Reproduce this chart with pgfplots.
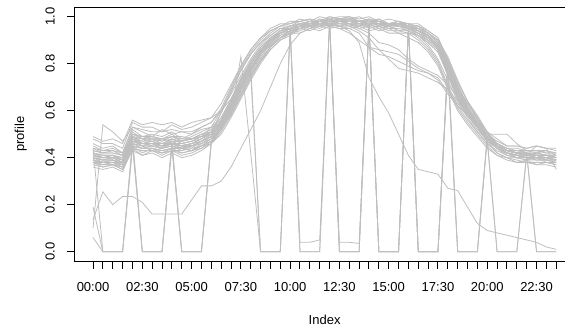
\documentclass[border=0pt]{standalone}
\usepackage{pgfplots}
\pgfplotsset{compat=1.18}
\usepackage{fontspec}
\setmainfont{Liberation Sans}
\definecolor{lc}{RGB}{190,190,190}
\newcommand{\prof}[1]{\addplot[lc, line width=0.6pt, mark=none] table[header=false, row sep=\\, x expr=\coordindex+1, y index=0]{#1\\};}
\begin{document}
\begin{tikzpicture}
\begin{axis}[name=ax, scale only axis, width=375.2pt, height=190.35pt,
 xmin=-0.88, xmax=49.88, ymin=-0.04, ymax=1.04,
 axis line style={black, line width=0.75pt},
 tick align=outside, xtick pos=bottom, ytick pos=left,
 major tick length=5.6pt, tick style={black, line width=0.75pt},
 xtick={1,...,48},
 xticklabels={00:00,,,,,02:30,,,,,05:00,,,,,07:30,,,,,10:00,,,,,12:30,,,,,15:00,,,,,17:30,,,,,20:00,,,,,22:30,,},
 ytick={0,0.2,0.4,0.6,0.8,1},
 /pgf/number format/assume math mode=true,
 yticklabel style={xshift=-5.7pt, rotate=90, anchor=south, /pgf/number format/.cd, fixed, fixed zerofill, precision=1},
 xticklabel style={anchor=north, yshift=-6.5pt},
 tick label style={font=\fontsize{9.75}{11}\selectfont},
 label style={font=\fontsize{9.75}{11}\selectfont},
 xlabel={Index}, ylabel={profile},
 xlabel style={at={(axis description cs:0.5,-0.2301)}, anchor=center},
 ylabel style={at={(axis description cs:-0.1074,0.5)}, anchor=center, rotate=0},
]
% normal days
\prof{.39\\.37\\.38\\.36\\.47\\.45\\.43\\.44\\.46\\.44\\.43\\.46\\.48\\.55\\.63\\.72\\.80\\.86\\.91\\.94\\.95\\.97\\.96\\.98\\.97\\.99\\.98\\.98\\.99\\.97\\.96\\.97\\.95\\.93\\.91\\.87\\.76\\.65\\.59\\.54\\.49\\.44\\.42\\.41\\.40\\.41\\.39\\.39}
\prof{.42\\.40\\.41\\.39\\.49\\.46\\.47\\.45\\.48\\.46\\.47\\.49\\.53\\.60\\.69\\.78\\.85\\.90\\.94\\.96\\.96\\.98\\.97\\.99\\.98\\.99\\1\\.98\\.98\\.99\\.97\\.98\\.96\\.96\\.93\\.90\\.81\\.70\\.63\\.57\\.50\\.46\\.44\\.42\\.43\\.42\\.41\\.41}
\prof{.44\\.42\\.43\\.41\\.51\\.48\\.49\\.48\\.50\\.47\\.49\\.51\\.53\\.57\\.64\\.73\\.80\\.86\\.90\\.93\\.94\\.96\\.95\\.97\\.96\\.98\\.97\\.97\\.96\\.97\\.95\\.96\\.94\\.92\\.90\\.86\\.75\\.65\\.58\\.53\\.47\\.44\\.42\\.41\\.42\\.40\\.41\\.40}
\prof{.38\\.36\\.37\\.35\\.45\\.42\\.44\\.42\\.44\\.42\\.43\\.45\\.46\\.50\\.57\\.65\\.73\\.80\\.86\\.90\\.92\\.95\\.94\\.96\\.95\\.96\\.97\\.95\\.96\\.94\\.95\\.93\\.93\\.90\\.86\\.80\\.70\\.61\\.55\\.50\\.45\\.41\\.40\\.38\\.39\\.37\\.38\\.37}
\prof{.46\\.44\\.45\\.42\\.53\\.51\\.49\\.52\\.50\\.51\\.50\\.53\\.55\\.61\\.70\\.79\\.86\\.91\\.94\\.96\\.98\\.98\\.99\\.98\\1\\.99\\.99\\1\\.98\\.99\\.97\\.98\\.96\\.95\\.92\\.88\\.78\\.67\\.60\\.55\\.50\\.46\\.44\\.44\\.43\\.43\\.43\\.42}
\prof{.40\\.38\\.39\\.37\\.48\\.45\\.46\\.44\\.47\\.45\\.44\\.47\\.49\\.55\\.62\\.71\\.79\\.85\\.90\\.93\\.95\\.96\\.98\\.97\\.99\\.98\\.99\\.97\\.98\\.98\\.96\\.97\\.96\\.96\\.93\\.89\\.80\\.70\\.62\\.56\\.50\\.45\\.42\\.40\\.40\\.39\\.39\\.38}
\prof{.42\\.41\\.41\\.39\\.49\\.47\\.48\\.46\\.48\\.46\\.47\\.49\\.50\\.53\\.59\\.67\\.75\\.82\\.87\\.91\\.93\\.96\\.95\\.97\\.96\\.98\\.97\\.96\\.97\\.95\\.96\\.94\\.95\\.93\\.90\\.86\\.76\\.66\\.59\\.53\\.48\\.44\\.41\\.41\\.40\\.40\\.40\\.39}
\prof{.36\\.35\\.36\\.34\\.44\\.41\\.43\\.41\\.43\\.41\\.42\\.44\\.47\\.53\\.62\\.70\\.78\\.84\\.88\\.91\\.93\\.93\\.95\\.94\\.96\\.95\\.95\\.96\\.94\\.95\\.93\\.93\\.91\\.89\\.85\\.79\\.69\\.60\\.54\\.49\\.44\\.41\\.39\\.38\\.38\\.37\\.37\\.36}
\prof{.48\\.46\\.46\\.44\\.55\\.53\\.53\\.51\\.54\\.52\\.53\\.55\\.57\\.63\\.71\\.79\\.86\\.91\\.95\\.97\\.97\\.99\\.98\\1\\.99\\1\\1\\.99\\1\\.98\\.99\\.98\\.97\\.97\\.94\\.91\\.82\\.72\\.64\\.58\\.51\\.48\\.45\\.45\\.44\\.45\\.44\\.43}
\prof{.41\\.39\\.40\\.38\\.46\\.44\\.45\\.44\\.45\\.43\\.45\\.47\\.49\\.55\\.63\\.72\\.80\\.86\\.90\\.94\\.95\\.96\\.98\\.97\\.98\\.99\\.97\\.98\\.98\\.96\\.97\\.97\\.95\\.94\\.91\\.87\\.77\\.66\\.60\\.54\\.48\\.45\\.43\\.42\\.41\\.42\\.41\\.40}
\prof{.45\\.43\\.44\\.42\\.52\\.49\\.50\\.49\\.51\\.48\\.50\\.52\\.53\\.55\\.60\\.67\\.75\\.82\\.87\\.91\\.94\\.96\\.97\\.99\\.98\\.99\\1\\.98\\.99\\.98\\.97\\.98\\.97\\.96\\.94\\.91\\.82\\.72\\.64\\.57\\.51\\.46\\.43\\.43\\.42\\.42\\.43\\.41}
\prof{.39\\.38\\.39\\.37\\.48\\.46\\.47\\.45\\.47\\.45\\.46\\.48\\.51\\.59\\.68\\.77\\.84\\.89\\.92\\.95\\.95\\.97\\.96\\.97\\.96\\.98\\.97\\.96\\.97\\.95\\.96\\.94\\.94\\.91\\.87\\.81\\.71\\.62\\.56\\.51\\.46\\.42\\.40\\.40\\.39\\.40\\.38\\.38}
\prof{.49\\.47\\.48\\.46\\.56\\.54\\.55\\.54\\.55\\.53\\.55\\.56\\.57\\.60\\.65\\.73\\.80\\.86\\.90\\.93\\.95\\.97\\.96\\.98\\.97\\.99\\.98\\.97\\.98\\.96\\.97\\.96\\.95\\.94\\.91\\.87\\.78\\.68\\.61\\.55\\.50\\.47\\.45\\.45\\.44\\.45\\.44\\.44}
\prof{.37\\.36\\.37\\.35\\.43\\.41\\.42\\.40\\.42\\.40\\.41\\.43\\.46\\.53\\.61\\.70\\.78\\.84\\.88\\.91\\.93\\.94\\.96\\.95\\.97\\.96\\.96\\.97\\.95\\.96\\.94\\.94\\.93\\.92\\.89\\.85\\.75\\.65\\.58\\.52\\.47\\.42\\.40\\.39\\.38\\.38\\.38\\.37}
\prof{.42\\.40\\.41\\.39\\.48\\.46\\.46\\.45\\.46\\.44\\.46\\.48\\.51\\.59\\.68\\.77\\.84\\.89\\.93\\.96\\.97\\.98\\.99\\.98\\1\\.99\\.99\\.98\\.99\\.98\\.97\\.98\\.96\\.95\\.92\\.88\\.78\\.68\\.60\\.54\\.48\\.44\\.42\\.41\\.41\\.40\\.40\\.39}
\prof{.40\\.39\\.40\\.38\\.50\\.48\\.49\\.47\\.49\\.47\\.48\\.50\\.51\\.53\\.58\\.66\\.74\\.81\\.86\\.90\\.93\\.95\\.97\\.96\\.98\\.98\\.99\\.97\\.98\\.98\\.96\\.97\\.96\\.96\\.93\\.90\\.81\\.70\\.63\\.57\\.50\\.46\\.43\\.42\\.41\\.42\\.41\\.40}
% days with blocks of zeros
\prof{.44\\0\\0\\0\\.47\\0\\0\\0\\.46\\.46\\.47\\.48\\.50\\.55\\.61\\.69\\.77\\.84\\.89\\.93\\.95\\.96\\.97\\.98\\.98\\.98\\.98\\.98\\.97\\.97\\.97\\.96\\.96\\.94\\.92\\.88\\.79\\.69\\.60\\.54\\.48\\.45\\.42\\.41\\.41\\.40\\.40\\.40}
\prof{.38\\.38\\.37\\.37\\.45\\0\\0\\0\\.44\\0\\0\\0\\.47\\.52\\.64\\.73\\.81\\.87\\.91\\.94\\.96\\.97\\.97\\.98\\.98\\.99\\.98\\.98\\.98\\.97\\.97\\.97\\.96\\.94\\.92\\.88\\.80\\.70\\.61\\.55\\.49\\.45\\.43\\.42\\.41\\.41\\.40\\.40}
\prof{.06\\0\\0\\0\\.44\\.43\\.43\\.42\\.43\\.43\\.44\\.45\\.48\\.53\\.58\\.83\\.42\\0\\0\\0\\.95\\.96\\.97\\.97\\.98\\.98\\.98\\.97\\.97\\.97\\.96\\.96\\.95\\.92\\.88\\.82\\.73\\.64\\.57\\.51\\.46\\.43\\.41\\.40\\.39\\.39\\.39\\.38}
\prof{.41\\.40\\.40\\.39\\.48\\.47\\.47\\.46\\.47\\0\\0\\0\\.46\\.52\\.60\\.69\\.77\\.84\\.89\\.93\\.95\\0\\0\\0\\.98\\0\\0\\0\\.98\\.97\\.97\\.97\\.96\\.94\\.92\\.88\\.79\\.69\\.60\\.54\\.48\\.44\\.42\\.42\\.41\\.41\\.41\\.40}
\prof{.42\\.41\\.41\\.40\\.49\\.48\\.47\\.48\\.47\\.47\\.48\\.49\\.51\\.56\\.63\\.71\\.76\\0\\0\\0\\.94\\.04\\.04\\.05\\.98\\.98\\.98\\.98\\.97\\0\\0\\0\\.95\\.95\\.93\\.90\\.83\\.73\\.64\\.56\\.50\\.46\\.43\\.42\\.42\\.41\\.41\\.41}
\prof{.39\\.38\\.38\\.38\\.46\\.45\\.45\\.44\\.45\\.44\\.45\\.46\\.48\\.53\\.61\\.69\\.77\\.84\\.89\\.93\\.95\\.96\\.97\\.98\\.98\\.04\\.04\\.035\\.97\\0\\0\\0\\.95\\0\\0\\0\\.80\\.70\\.61\\.54\\.48\\.44\\.42\\.41\\.40\\.40\\.40\\.39}
\prof{.44\\.43\\.43\\.42\\.50\\.49\\.49\\.48\\.49\\.49\\.48\\.50\\.51\\.55\\.62\\.70\\.78\\.85\\.90\\.94\\.96\\.97\\.98\\.98\\.99\\0\\0\\0\\.98\\.98\\.97\\.97\\.97\\0\\0\\0\\.81\\0\\0\\0\\.49\\.45\\.43\\.42\\.42\\.41\\.41\\.41}
\prof{.40\\.39\\.39\\.38\\.47\\.46\\.46\\.45\\.46\\.46\\.45\\.47\\.49\\.54\\.62\\.70\\.78\\.84\\.89\\.93\\.95\\.96\\.97\\.98\\.98\\.98\\.98\\.98\\.97\\.97\\.97\\.96\\.96\\.94\\.92\\.88\\.79\\0\\0\\0\\.48\\0\\0\\0\\.42\\0\\0\\0}
\prof{.38\\.37\\.37\\.36\\.45\\.44\\.44\\.43\\.44\\.44\\.43\\.45\\.47\\.52\\.59\\.68\\.76\\.83\\.88\\.92\\.94\\.95\\.96\\.97\\.97\\.97\\.97\\.97\\.97\\0\\0\\0\\.95\\.93\\.90\\.86\\.77\\.67\\.59\\.53\\.47\\0\\0\\0\\.41\\.45\\.44\\.35}
\prof{.19\\0\\0\\0\\.45\\.44\\.44\\.43\\.44\\.44\\.43\\.45\\.47\\.52\\.60\\.69\\.77\\.84\\.89\\.93\\.95\\.96\\.97\\.98\\.98\\.98\\.98\\.98\\.98\\.97\\.97\\.97\\.96\\0\\0\\0\\.79\\.70\\.61\\.54\\.48\\.44\\.42\\.41\\.40\\.40\\.40\\.39}
\prof{.41\\.40\\.40\\.40\\.47\\.46\\.46\\.46\\.46\\.45\\.46\\.47\\.49\\.54\\.61\\.69\\.77\\.84\\.89\\.93\\.95\\.96\\.97\\.98\\.98\\.98\\.99\\.98\\.98\\.97\\.97\\.97\\.96\\.94\\.92\\.88\\.79\\.69\\.61\\.55\\.49\\.45\\.43\\.42\\.42\\0\\0\\0}
\prof{.43\\.42\\.42\\.41\\.49\\.48\\.48\\.47\\.48\\.47\\.48\\.50\\.52\\.57\\.65\\.74\\.81\\.87\\.91\\.94\\.96\\0\\0\\0\\.97\\.98\\.98\\.98\\.97\\0\\0\\0\\.96\\.94\\.91\\.87\\.76\\.66\\.59\\.54\\.48\\.45\\.43\\.42\\.41\\.41\\.41\\.40}
\prof{.39\\.38\\.38\\.37\\.46\\.45\\.45\\.44\\.45\\.44\\.45\\.46\\.49\\.55\\.63\\.72\\.79\\0\\0\\0\\.93\\.96\\.97\\.97\\.98\\0\\0\\0\\.97\\.97\\.96\\.96\\.95\\.93\\.90\\.86\\.76\\.66\\.59\\.53\\.48\\.44\\.42\\.41\\.40\\.40\\.40\\.39}
\prof{.42\\.41\\.41\\.40\\.49\\0\\0\\0\\.47\\.47\\.48\\.49\\.51\\.56\\.64\\.73\\.80\\.86\\.90\\.93\\.95\\.96\\.97\\.98\\.98\\.98\\.99\\.98\\.98\\.97\\.97\\.96\\.96\\.94\\.92\\.88\\.77\\0\\0\\0\\.49\\.45\\.43\\.42\\.42\\.41\\.41\\.41}
\prof{.40\\.39\\.39\\.38\\.47\\.46\\.46\\.45\\.46\\0\\0\\0\\.47\\.54\\.62\\.71\\.78\\.85\\.89\\.93\\.95\\.96\\.97\\.97\\.98\\.98\\.98\\.98\\.97\\.97\\.97\\.96\\.95\\0\\0\\0\\.78\\.66\\.59\\.54\\.48\\.44\\.42\\.41\\.40\\.40\\.40\\.39}
% unusual days
\prof{.135\\.255\\.20\\.235\\.235\\.21\\.16\\.16\\.16\\.16\\.22\\.28\\.28\\.30\\.36\\.44\\.52\\.60\\.70\\.80\\.88\\.93\\.95\\.96\\.96\\.97\\.97\\.96\\.96\\.96\\.95\\.95\\.94\\.92\\.89\\.85\\.76\\.67\\.59\\.53\\.47\\.44\\.41\\.40\\.40\\.39\\.39\\.39}
\prof{.40\\.39\\.39\\.38\\.47\\.46\\.45\\.45\\.46\\.45\\.45\\.47\\.49\\.54\\.61\\.70\\.78\\.85\\.90\\.93\\.95\\.96\\.97\\.97\\.97\\.96\\.94\\.89\\.74\\.66\\.59\\.50\\.41\\.35\\.34\\.33\\.27\\.26\\.19\\.12\\.09\\.08\\.07\\.06\\.05\\.04\\.02\\.01}
\prof{.43\\.42\\.42\\.41\\.50\\.49\\.48\\.48\\.49\\.48\\.48\\.49\\.50\\.54\\.61\\.69\\.77\\.84\\.89\\.92\\.94\\.95\\.96\\.97\\.97\\.96\\.95\\.93\\.87\\.84\\.83\\.81\\.79\\.77\\.76\\.73\\.67\\.62\\.58\\.53\\.49\\.45\\.43\\.42\\.42\\.41\\.41\\.40}
\prof{.39\\.38\\.38\\.37\\.45\\.44\\.44\\.43\\.44\\.44\\.43\\.45\\.47\\.52\\.59\\.67\\.75\\.82\\.87\\.91\\.94\\.95\\.96\\.97\\.97\\.97\\.96\\.95\\.93\\.89\\.88\\.86\\.82\\.79\\.77\\.75\\.71\\.66\\.60\\.55\\.50\\.50\\.50\\.46\\.43\\.43\\.42\\.42}
\prof{.10\\.54\\.51\\.47\\.53\\.52\\.51\\.51\\.52\\.51\\.51\\.53\\.55\\.60\\.67\\.75\\.82\\.88\\.92\\.95\\.96\\.97\\.98\\.98\\.99\\.99\\.99\\.98\\.98\\.98\\.97\\.97\\.97\\.95\\.93\\.89\\.81\\.71\\.62\\.55\\.49\\.46\\.44\\.43\\.43\\.43\\.42\\.42}
\prof{.41\\.40\\.40\\.39\\.47\\.46\\.46\\.45\\.46\\.45\\.46\\.47\\.50\\.56\\.64\\.73\\.80\\.86\\.90\\.93\\.95\\.96\\.96\\.97\\.96\\.95\\.93\\.90\\.87\\.86\\.85\\.84\\.81\\.78\\.76\\.74\\.68\\.63\\.58\\.54\\.49\\.45\\.43\\.42\\.41\\.41\\.41\\.40}
\prof{.38\\.37\\.37\\.36\\.44\\.43\\.43\\.42\\.43\\.42\\.43\\.44\\.46\\.51\\.58\\.66\\.74\\.81\\.87\\.91\\.93\\.95\\.96\\.96\\.97\\.96\\.96\\.94\\.91\\.86\\.82\\.78\\.77\\.76\\.74\\.72\\.69\\.64\\.59\\.54\\.49\\.45\\.42\\.41\\.40\\.40\\.39\\.39}
\end{axis}
\pgfresetboundingbox
\path[use as bounding box] (ax.south west) ++(-55.875pt,-49.425pt) rectangle ++(423.75pt,245.25pt);
\end{tikzpicture}
\end{document}
